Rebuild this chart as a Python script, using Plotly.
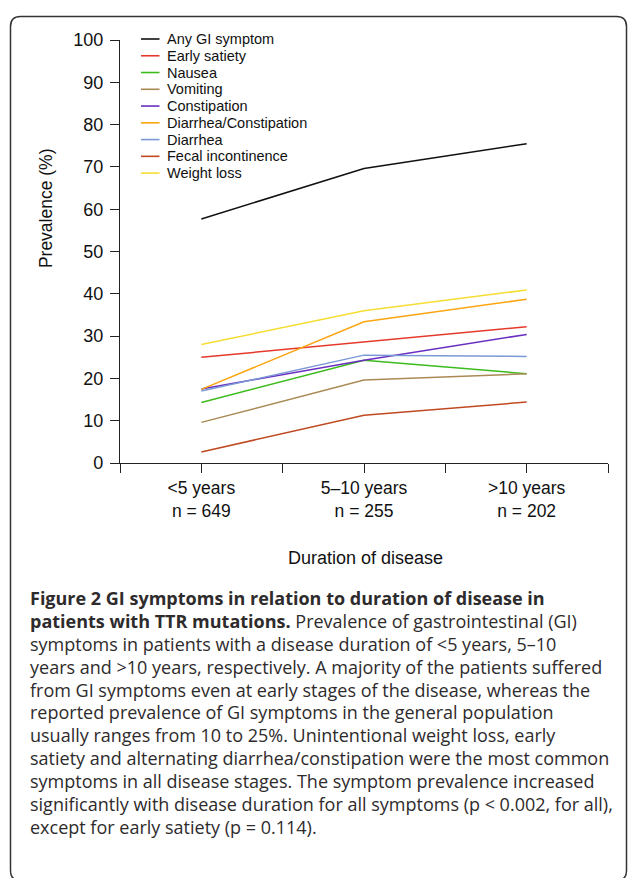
import plotly.graph_objects as go

# ---------------- data ----------------
categories = ["&lt;5 years", "5–10 years", "&gt;10 years"]
n_patients = [649, 255, 202]

any_gi = [57.7, 69.6, 75.5]
early_satiety = [25.0, 28.6, 32.2]
nausea = [14.3, 24.3, 21.1]
vomiting = [9.6, 19.6, 21.1]
constipation = [17.5, 24.3, 30.4]
diarrhea_constipation = [17.4, 33.4, 38.7]
diarrhea = [17.0, 25.5, 25.2]
fecal_incontinence = [2.6, 11.3, 14.4]
weight_loss = [28.0, 36.0, 40.9]

series_names = ["Any GI symptom", "Early satiety", "Nausea", "Vomiting", "Constipation",
                "Diarrhea/Constipation", "Diarrhea", "Fecal incontinence", "Weight loss"]
series_values = [any_gi, early_satiety, nausea, vomiting, constipation,
                 diarrhea_constipation, diarrhea, fecal_incontinence, weight_loss]
series_colors = ["#111111", "#e5392c", "#3cbb1c", "#a98a55", "#6a2fc0",
                 "#fba511", "#7b98d6", "#bf4a22", "#f6dd33"]

y_ticks = list(range(0, 101, 10))

caption_lines = [
    "<b>Figure 2 GI symptoms in relation to duration of disease in</b>",
    "<b>patients with TTR mutations.</b> Prevalence of gastrointestinal (GI)",
    "symptoms in patients with a disease duration of &lt;5 years, 5–10",
    "years and &gt;10 years, respectively. A majority of the patients suffered",
    "from GI symptoms even at early stages of the disease, whereas the",
    "reported prevalence of GI symptoms in the general population",
    "usually ranges from 10 to 25%. Unintentional weight loss, early",
    "satiety and alternating diarrhea/constipation were the most common",
    "symptoms in all disease stages. The symptom prevalence increased",
    "significantly with disease duration for all symptoms (p &lt; 0.002, for all),",
    "except for early satiety (p = 0.114).",
]

# ---------------- geometry helpers ----------------
W, H = 628, 878
PL, PR, PT, PB = 120, 608, 40.0, 462.7


def px_x(p):
    return (p - PL) / (PR - PL)


def px_y(p):
    return (PB - p) / (PB - PT)


# category positions on a 0..6 axis
cat_pos = [2 * i + 1 for i in range(len(categories))]
tick_vals = list(range(0, 2 * len(categories) + 1))
tick_text = [""] * len(tick_vals)
for pos, cat, n in zip(cat_pos, categories, n_patients):
    tick_text[pos] = f"{cat}<br>n = {n}"

AX_FONT = "Liberation Sans, Arial, Helvetica, sans-serif"

fig = go.Figure()
for name, vals, col in zip(series_names, series_values, series_colors):
    fig.add_trace(go.Scatter(x=cat_pos, y=vals, mode="lines", name=name,
                             line=dict(color=col, width=1.5), showlegend=False,
                             hoverinfo="skip"))

shapes = []
annotations = []

# manual legend
row0, row_step = 39.0, 16.75
for i, (name, col) in enumerate(zip(series_names, series_colors)):
    yy = row0 + i * row_step
    shapes.append(dict(type="line", xref="paper", yref="paper",
                       x0=px_x(141), x1=px_x(159.5), y0=px_y(yy), y1=px_y(yy),
                       line=dict(color=col, width=1.6)))
    annotations.append(dict(text=name, xref="paper", yref="paper",
                            x=px_x(164.5), y=px_y(yy), xanchor="left", yanchor="middle",
                            showarrow=False, font=dict(family=AX_FONT, size=14.5, color="#111")))

# axis titles
annotations.append(dict(text="Prevalence (%)", xref="paper", yref="paper",
                        x=px_x(46), y=px_y(208), textangle=-90, showarrow=False,
                        xanchor="center", yanchor="middle",
                        font=dict(family=AX_FONT, size=17.5, color="#111")))
annotations.append(dict(text="Duration of disease", xref="paper", yref="paper",
                        x=px_x(365), y=px_y(558), showarrow=False,
                        xanchor="center", yanchor="middle",
                        font=dict(family=AX_FONT, size=18, color="#111")))

# caption
cap_y0, cap_step = 598, 22.8
for i, line in enumerate(caption_lines):
    annotations.append(dict(text=line, xref="paper", yref="paper",
                            x=px_x(28), y=px_y(cap_y0 + i * cap_step),
                            xanchor="left", yanchor="middle", showarrow=False,
                            font=dict(family="Open Sans, sans-serif", size=18, color="#2e2b2c")))

# rounded frame
L, R, T, B, r = 10.5, 626.5, 16.5, 880.0, 10


def P(x, y):
    return f"{px_x(x):.5f},{px_y(y):.5f}"


frame = (f"M{P(L, T + r)} Q{P(L, T)} {P(L + r, T)} L{P(R - r, T)} Q{P(R, T)} {P(R, T + r)} "
         f"L{P(R, B - r)} Q{P(R, B)} {P(R - r, B)} L{P(L + r, B)} Q{P(L, B)} {P(L, B - r)} Z")
shapes.append(dict(type="path", xref="paper", yref="paper", path=frame,
                   line=dict(color="#333333", width=1.5), layer="below"))

fig.update_layout(
    width=W, height=H,
    margin=dict(l=PL, r=W - PR, t=PT, b=H - PB, pad=0),
    paper_bgcolor="white", plot_bgcolor="white",
    showlegend=False,
    shapes=shapes, annotations=annotations,
    xaxis=dict(range=[0, 2 * len(categories)], tickmode="array", tickvals=tick_vals,
               ticktext=tick_text, ticks="outside", ticklen=9, tickwidth=1.3,
               tickcolor="#222", showline=True, linecolor="#222", linewidth=1.3,
               showgrid=False, zeroline=False,
               tickfont=dict(family=AX_FONT, size=17.5, color="#111")),
    yaxis=dict(range=[0, 100], tickmode="array", tickvals=y_ticks,
               ticks="outside", ticklen=9, tickwidth=1.3, tickcolor="#222",
               showline=True, linecolor="#222", linewidth=1.3,
               showgrid=False, zeroline=False, ticklabelstandoff=3,
               tickfont=dict(family=AX_FONT, size=18, color="#111")),
)

fig.write_html("out.html", config={"displayModeBar": False},
               post_script="document.body.style.margin='0px';")
